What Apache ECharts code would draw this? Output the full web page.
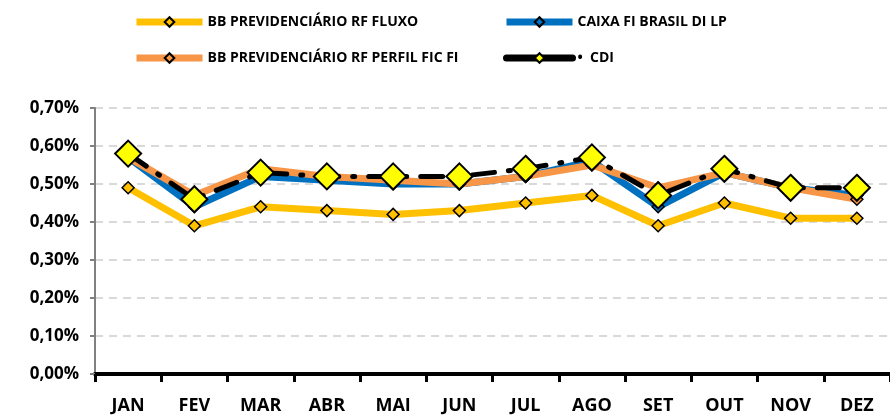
<!DOCTYPE html>
<html>
<head>
<meta charset="utf-8">
<script src="https://cdn.jsdelivr.net/npm/echarts@6/dist/echarts.min.js"></script>
<style>
  html, body { margin: 0; padding: 0; background: #fff; }
  #chart { width: 890px; height: 416px; }
</style>
</head>
<body>
<div id="chart"></div>
<script>
// meses
var meses = ['JAN', 'FEV', 'MAR', 'ABR', 'MAI', 'JUN', 'JUL', 'AGO', 'SET', 'OUT', 'NOV', 'DEZ'];
// rentabilidade mensal (%)
var bbFluxo = [0.49, 0.39, 0.44, 0.43, 0.42, 0.43, 0.45, 0.47, 0.39, 0.45, 0.41, 0.41];
var caixaDiLp = [0.57, 0.44, 0.52, 0.51, 0.50, 0.50, 0.52, 0.56, 0.44, 0.53, 0.49, 0.47];
var bbPerfil = [0.57, 0.47, 0.54, 0.52, 0.51, 0.50, 0.52, 0.55, 0.49, 0.53, 0.49, 0.46];
var cdi = [0.58, 0.46, 0.53, 0.52, 0.52, 0.52, 0.54, 0.57, 0.47, 0.54, 0.49, 0.49];
var yTicks = [0, 0.7, 0.1]; // min, max, intervalo

var fonte = '"Open Sans", "Noto Sans", sans-serif';

function serieFundo(nome, dados, cor) {
    return {
        name: nome,
        type: 'line',
        data: dados,
        symbol: 'diamond',
        symbolSize: 12,
        lineStyle: { color: cor, width: 7 },
        itemStyle: { color: cor, borderColor: '#000', borderWidth: 1.5 }
    };
}

var legendaTexto = { fontFamily: fonte, fontWeight: 'bold', fontSize: 14, color: '#000' };

var myChart = echarts.init(document.getElementById('chart'));
var option = {
    animation: false,
    legend: [{
        orient: 'vertical',
        left: 128,
        top: 10,
        itemWidth: 66,
        itemHeight: 12,
        itemGap: 22,
        lineStyle: { width: 7 },
        data: ['BB PREVIDENCIÁRIO RF FLUXO', 'BB PREVIDENCIÁRIO RF PERFIL FIC FI'],
        textStyle: legendaTexto
    }, {
        orient: 'vertical',
        left: 498,
        top: 10,
        itemWidth: 66,
        itemHeight: 12,
        itemGap: 22,
        lineStyle: { width: 7 },
        data: ['CAIXA FI BRASIL DI LP', { name: 'CDI', lineStyle: { type: 'solid', width: 7 } }],
        formatter: function(n) { return n === 'CDI' ? '•  CDI' : n; },
        textStyle: legendaTexto
    }],
    grid: { left: 95, right: 0, top: 108, bottom: 42 },
    xAxis: {
        type: 'category',
        data: meses,
        boundaryGap: true,
        axisLine: { lineStyle: { color: '#000', width: 4 } },
        axisTick: { show: true, length: 8, lineStyle: { color: '#000', width: 3 } },
        axisLabel: { margin: 23, fontFamily: fonte, fontWeight: 'bold', fontSize: 18, color: '#000' }
    },
    yAxis: {
        type: 'value',
        min: yTicks[0],
        max: yTicks[1],
        interval: yTicks[2],
        axisLine: { show: true, lineStyle: { color: '#808080', width: 2 } },
        axisTick: { show: true, length: 5, lineStyle: { color: '#808080', width: 2 } },
        splitLine: { lineStyle: { color: '#d9d9d9', width: 2, type: [8, 6] } },
        axisLabel: {
            margin: 16,
            fontFamily: fonte, fontWeight: 'bold', fontSize: 17, color: '#000',
            formatter: function(v) { return v.toFixed(2).replace('.', ',') + '%'; }
        }
    },
    series: [
        serieFundo('BB PREVIDENCIÁRIO RF FLUXO', bbFluxo, '#FFC000'),
        serieFundo('CAIXA FI BRASIL DI LP', caixaDiLp, '#0070C0'),
        serieFundo('BB PREVIDENCIÁRIO RF PERFIL FIC FI', bbPerfil, '#F79646'),
        {
            name: 'CDI',
            type: 'line',
            data: cdi,
            symbol: 'diamond',
            symbolSize: 26,
            z: 5,
            lineStyle: { color: '#000', width: 5, type: [22, 14, 2, 14], cap: 'round' },
            itemStyle: { color: '#FFFF00', borderColor: '#000', borderWidth: 2 }
        }
    ]
};
myChart.setOption(option);
</script>
</body>
</html>
